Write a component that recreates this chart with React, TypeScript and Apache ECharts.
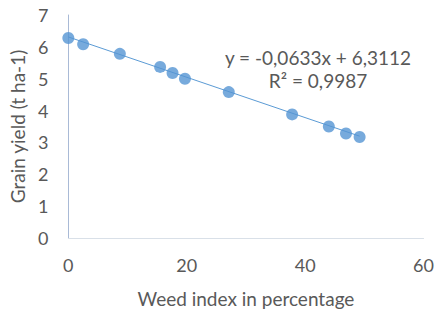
import React, { useEffect, useRef } from "react";
import * as echarts from "echarts";

const weedIndex = [0, 2.5, 8.7, 15.5, 17.6, 19.7, 27.1, 37.8, 44.0, 46.9, 49.2];
const grainYield = [6.28, 6.08, 5.78, 5.37, 5.18, 5.0, 4.58, 3.88, 3.5, 3.28, 3.17];
const slope = -0.0633;
const intercept = 6.3112;
const equationText = "y = -0,0633x + 6,3112";
const r2Text = "R² = 0,9987";
const xAxisTitle = "Weed index in percentage";
const yAxisTitle = "Grain yield (t ha-1)";

const FONT = "Lato, 'Open Sans', sans-serif";
const TEXT = "#595959";
const BLUE = "#5b9bd5";

export default function App() {
  const ref = useRef<HTMLDivElement>(null);
  useEffect(() => {
    if (!ref.current) return;
    const chart = echarts.init(ref.current, undefined, { renderer: "svg" });
    const xMin = Math.min(...weedIndex);
    const xMax = Math.max(...weedIndex);
    const trend = [
      [xMin, slope * xMin + intercept],
      [xMax, slope * xMax + intercept],
    ];
    chart.setOption({
      animation: false,
      grid: { left: 68, right: 12, top: 15, bottom: 72 },
      xAxis: {
        type: "value",
        min: 0,
        max: 60,
        interval: 20,
        name: xAxisTitle,
        nameLocation: "middle",
        nameGap: 51,
        nameTextStyle: { color: TEXT, fontSize: 19, fontFamily: FONT },
        axisLine: { show: true, onZero: false, lineStyle: { color: "#d9e0e8", width: 1 } },
        axisTick: { show: false },
        splitLine: { show: false },
        axisLabel: { color: TEXT, fontSize: 18, fontFamily: FONT, margin: 18 },
      },
      yAxis: {
        type: "value",
        min: 0,
        max: 7,
        interval: 1,
        name: yAxisTitle,
        nameLocation: "middle",
        nameGap: 40,
        nameTextStyle: { color: TEXT, fontSize: 19, fontFamily: FONT },
        axisLine: { show: true, lineStyle: { color: "#a9bad6", width: 1 } },
        axisTick: { show: false },
        splitLine: { show: false },
        axisLabel: { color: TEXT, fontSize: 18, fontFamily: FONT, margin: 20 },
      },
      graphic: [
        {
          type: "text",
          x: 318,
          y: 57,
          style: {
            text: equationText,
            fill: TEXT,
            fontSize: 19,
            fontFamily: FONT,
            align: "center",
            verticalAlign: "middle",
          },
        },
        {
          type: "text",
          x: 318,
          y: 80,
          style: {
            text: r2Text,
            fill: TEXT,
            fontSize: 19,
            fontFamily: FONT,
            align: "center",
            verticalAlign: "middle",
          },
        },
      ],
      series: [
        {
          type: "line",
          data: trend,
          symbol: "none",
          lineStyle: { color: BLUE, width: 1 },
          z: 1,
        },
        {
          type: "scatter",
          data: weedIndex.map((x, i) => [x, grainYield[i]]),
          symbol: "circle",
          symbolSize: 12,
          itemStyle: { color: "#5595d3" },
          z: 2,
        },
      ],
    });
    return () => chart.dispose();
  }, []);
  return (
    <div
      ref={ref}
      style={{ position: "fixed", left: 0, top: 0, width: 437, height: 313, background: "#fff" }}
    />
  );
}
